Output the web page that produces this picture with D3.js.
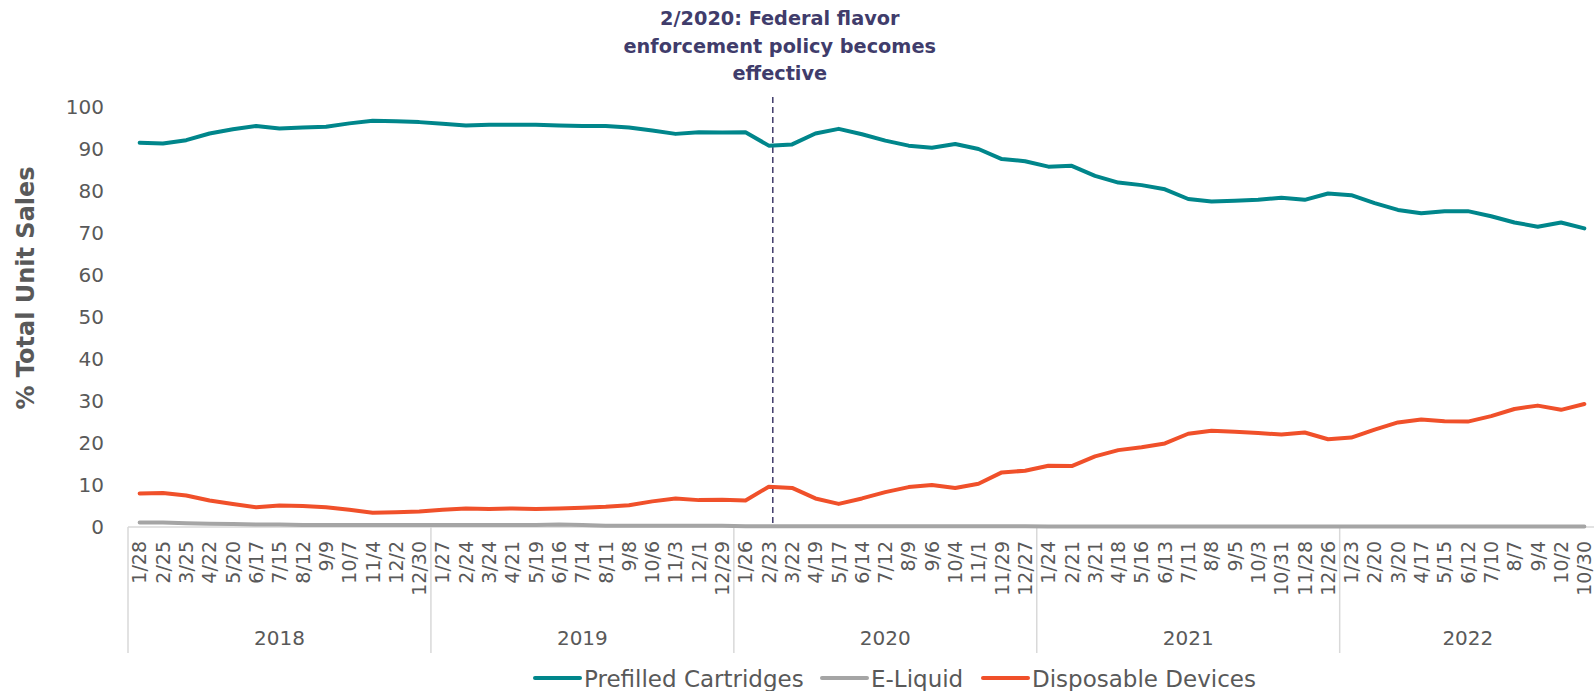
<!DOCTYPE html>
<html lang="en">
<head>
<meta charset="UTF-8">
<title>Unit sales share by product type</title>
<style>
  html, body { margin: 0; padding: 0; background: #fff; }
  svg { display: block; font-family: "DejaVu Sans", Verdana, sans-serif; }
</style>
</head>
<body>
<div id="chart"></div>
<script src="https://cdn.jsdelivr.net/npm/d3@7"></script>
<script>
// 4-week periods, grouped by year
const years = ['2018', '2019', '2020', '2021', '2022'];
const periods = [
  ['1/28', '2/25', '3/25', '4/22', '5/20', '6/17', '7/15', '8/12', '9/9', '10/7', '11/4', '12/2', '12/30'],
  ['1/27', '2/24', '3/24', '4/21', '5/19', '6/16', '7/14', '8/11', '9/8', '10/6', '11/3', '12/1', '12/29'],
  ['1/26', '2/23', '3/22', '4/19', '5/17', '6/14', '7/12', '8/9', '9/6', '10/4', '11/1', '11/29', '12/27'],
  ['1/24', '2/21', '3/21', '4/18', '5/16', '6/13', '7/11', '8/8', '9/5', '10/3', '10/31', '11/28', '12/26'],
  ['1/23', '2/20', '3/20', '4/17', '5/15', '6/12', '7/10', '8/7', '9/4', '10/2', '10/30']
];

const prefilled = [
  91.5, 91.3, 92.1, 93.7, 94.7, 95.5, 94.9, 95.1, 95.3, 96.1, 96.7, 96.6, 96.4,
  96.0, 95.6, 95.8, 95.8, 95.8, 95.6, 95.5, 95.5, 95.1, 94.4, 93.6, 94.0, 93.9,
  94.0, 90.8, 91.1, 93.7, 94.8, 93.5, 92.0, 90.8, 90.3, 91.2, 90.0, 87.6, 87.1,
  85.8, 86.0, 83.6, 82.0, 81.4, 80.4, 78.1, 77.5, 77.7, 77.9, 78.4, 77.9, 79.4,
  79.0, 77.1, 75.5, 74.7, 75.2, 75.2, 74.0, 72.5, 71.5, 72.5, 71.1
];
const eLiquid = [
  1.1, 1.1, 0.9, 0.8, 0.7, 0.6, 0.6, 0.5, 0.5, 0.5, 0.5, 0.5, 0.5,
  0.5, 0.5, 0.5, 0.5, 0.5, 0.6, 0.5, 0.3, 0.3, 0.3, 0.3, 0.3, 0.3,
  0.2, 0.2, 0.2, 0.2, 0.2, 0.2, 0.2, 0.2, 0.2, 0.2, 0.2, 0.2, 0.2,
  0.1, 0.1, 0.1, 0.1, 0.1, 0.1, 0.1, 0.1, 0.1, 0.1, 0.1, 0.1, 0.1,
  0.1, 0.1, 0.1, 0.1, 0.1, 0.1, 0.1, 0.1, 0.1, 0.1, 0.1
];
const disposable = [
  8.0, 8.1, 7.5, 6.3, 5.5, 4.7, 5.1, 5.0, 4.7, 4.1, 3.4, 3.5, 3.7,
  4.1, 4.4, 4.3, 4.4, 4.3, 4.4, 4.6, 4.8, 5.2, 6.1, 6.8, 6.4, 6.5,
  6.3, 9.6, 9.3, 6.8, 5.5, 6.8, 8.3, 9.5, 10.0, 9.3, 10.3, 13.0, 13.4,
  14.6, 14.5, 16.8, 18.3, 19.0, 19.9, 22.2, 22.9, 22.7, 22.4, 22.0, 22.5, 20.9,
  21.3, 23.2, 24.9, 25.6, 25.2, 25.1, 26.4, 28.1, 28.9, 27.9, 29.3
];
const yTicks = [0, 10, 20, 30, 40, 50, 60, 70, 80, 90, 100];

const seriesNames = ['Prefilled Cartridges', 'E-Liquid', 'Disposable Devices'];
const seriesColors = ['#00868b', '#a5a5a5', '#f0502a'];
const annotation = ['2/2020: Federal flavor', 'enforcement policy becomes', 'effective'];
const eventPeriod = '2020-2/23';

const width = 1594, height = 691;
const margin = {left: 128, right: 1596, top: 107, bottom: 527};

// flat list of keys so labels that repeat across years stay distinct
const keys = [];
periods.forEach((list, yi) => list.forEach(p => keys.push(years[yi] + '-' + p)));

const svg = d3.select('#chart').append('svg')
  .attr('width', width)
  .attr('height', height);

const x = d3.scaleBand()
  .domain(keys)
  .range([margin.left, margin.right])
  .padding(0);
const xc = k => x(k) + x.bandwidth() / 2;

const y = d3.scaleLinear()
  .domain([0, 100])
  .range([margin.bottom, margin.top]);

// y axis: labels only
const yAxis = svg.append('g')
  .attr('transform', `translate(${margin.left - 16},0)`)
  .call(d3.axisLeft(y).tickValues(yTicks).tickSize(0).tickPadding(8));
yAxis.select('.domain').remove();
yAxis.selectAll('text')
  .attr('fill', '#595959')
  .style('font-size', '20px')
  .style('font-family', '"DejaVu Sans", Verdana, sans-serif');

svg.append('text')
  .attr('transform', 'translate(34,288) rotate(-90)')
  .attr('text-anchor', 'middle')
  .attr('fill', '#595959')
  .style('font-size', '24px')
  .style('font-weight', 'bold')
  .text('% Total Unit Sales');

// category axis frame
const frameBottom = 653;
svg.append('line')
  .attr('x1', margin.left).attr('x2', margin.right)
  .attr('y1', y(0)).attr('y2', y(0))
  .attr('stroke', '#d9d9d9').attr('stroke-width', 1.5);

const yearStarts = [];
let idx = 0;
periods.forEach((list, yi) => {
  yearStarts.push({year: years[yi], first: keys[idx], last: keys[idx + list.length - 1]});
  idx += list.length;
});

svg.append('g').selectAll('line')
  .data(yearStarts)
  .join('line')
  .attr('x1', d => x(d.first)).attr('x2', d => x(d.first))
  .attr('y1', y(0)).attr('y2', frameBottom)
  .attr('stroke', '#d9d9d9').attr('stroke-width', 1.5);

svg.append('g').selectAll('text')
  .data(yearStarts)
  .join('text')
  .attr('x', d => (x(d.first) + x(d.last) + x.bandwidth()) / 2)
  .attr('y', 645)
  .attr('text-anchor', 'middle')
  .attr('fill', '#595959')
  .style('font-size', '20px')
  .text(d => d.year);

svg.append('g').selectAll('text')
  .data(keys)
  .join('text')
  .attr('transform', d => `translate(${xc(d)},541) rotate(-90)`)
  .attr('dy', '0.36em')
  .attr('text-anchor', 'end')
  .attr('fill', '#595959')
  .style('font-size', '19px')
  .text(d => d.split('-')[1]);

// event marker
svg.append('line')
  .attr('x1', xc(eventPeriod) + 4).attr('x2', xc(eventPeriod) + 4)
  .attr('y1', 97).attr('y2', y(0))
  .attr('stroke', '#403c6b')
  .attr('stroke-width', 1.5)
  .attr('stroke-dasharray', '6,4');

svg.append('g').selectAll('text')
  .data(annotation)
  .join('text')
  .attr('x', xc(eventPeriod) + 11)
  .attr('y', (d, i) => 25 + i * 27.5)
  .attr('text-anchor', 'middle')
  .attr('fill', '#403c6b')
  .style('font-size', '19.3px')
  .style('font-weight', 'bold')
  .text(d => d);

// lines
const series = [prefilled, eLiquid, disposable];
const line = d3.line()
  .x((d, i) => xc(keys[i]))
  .y(d => y(d));

svg.append('g').selectAll('path')
  .data(series)
  .join('path')
  .attr('d', d => line(d))
  .attr('fill', 'none')
  .attr('stroke', (d, i) => seriesColors[i])
  .attr('stroke-width', 4)
  .attr('stroke-linejoin', 'round')
  .attr('stroke-linecap', 'round');

// legend
const legendX = [535, 822, 983];
const legend = svg.append('g').selectAll('g')
  .data(seriesNames)
  .join('g')
  .attr('transform', (d, i) => `translate(${legendX[i]},678)`);
legend.append('line')
  .attr('x1', 0).attr('x2', 45)
  .attr('stroke', (d, i) => seriesColors[i])
  .attr('stroke-width', 4)
  .attr('stroke-linecap', 'round');
legend.append('text')
  .attr('x', 49)
  .attr('y', 9)
  .attr('fill', '#595959')
  .style('font-size', '23px')
  .text(d => d);
</script>
</body>
</html>
